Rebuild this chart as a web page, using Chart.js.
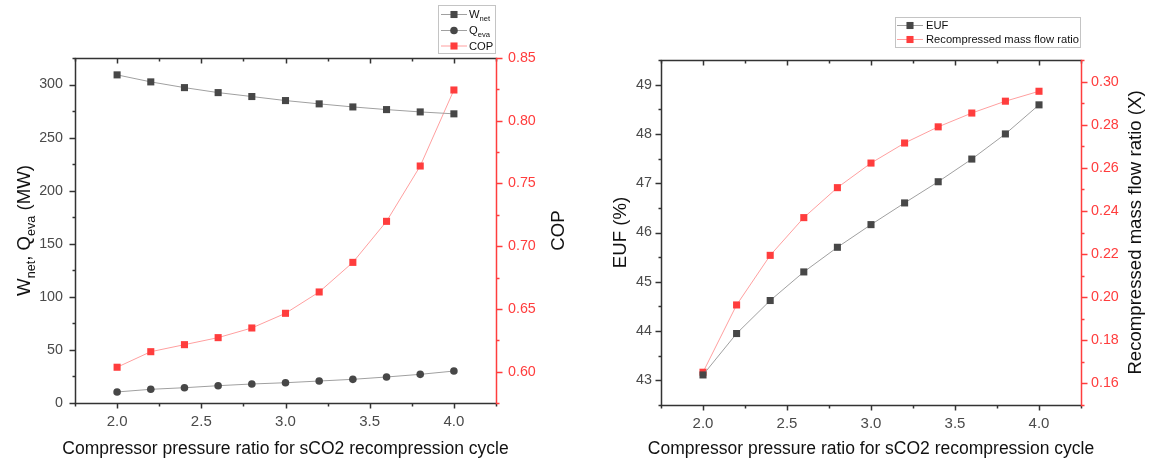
<!DOCTYPE html>
<html>
<head>
<meta charset="utf-8">
<script src="https://cdn.jsdelivr.net/npm/chart.js@4.4.1/dist/chart.umd.min.js"></script>
<style>
  html, body { margin: 0; padding: 0; background: #fff; }
  .wrap { display: flex; width: 1152px; height: 464px; }
  canvas { display: block; }
</style>
</head>
<body>
<div class="wrap">
  <canvas id="chartCop" width="576" height="464"></canvas>
  <canvas id="chartEuf" width="576" height="464"></canvas>
</div>
<script>
// compressor pressure ratio (x for both panels)
const pressureRatio = [2.0, 2.2, 2.4, 2.6, 2.8, 3.0, 3.2, 3.4, 3.6, 3.8, 4.0];

// left panel
const wNet = [309.1, 302.5, 297.1, 292.4, 288.7, 284.9, 281.8, 278.9, 276.4, 274.2, 272.4];
const qEva = [10.4, 12.9, 14.4, 16.3, 17.9, 19.1, 20.7, 22.3, 24.5, 27.0, 30.1];
const cop = [0.6035, 0.6159, 0.6215, 0.6271, 0.6348, 0.6465, 0.6635, 0.6871, 0.7198, 0.7639, 0.8245];

// right panel
const euf = [43.11, 43.95, 44.62, 45.20, 45.70, 46.16, 46.60, 47.03, 47.49, 48.00, 48.59];
const massFlowRatio = [0.1652, 0.1964, 0.2194, 0.2369, 0.2508, 0.2622, 0.2715, 0.2790, 0.2854, 0.2909, 0.2955];

// tick values
const xTicks = [2.0, 2.5, 3.0, 3.5, 4.0];
const powerTicks = [0, 50, 100, 150, 200, 250, 300];
const copTicks = [0.60, 0.65, 0.70, 0.75, 0.80, 0.85];
const eufTicks = [43, 44, 45, 46, 47, 48, 49];
const ratioTicks = [0.16, 0.18, 0.20, 0.22, 0.24, 0.26, 0.28, 0.30];

const FONT = 'Arial, "Liberation Sans", sans-serif';
const AXIS = '#333333';
const LABEL = '#4a4a4a';
const RED = '#ff3d3d';
const RED_LINE = '#ff9f9f';
const GREY_MARK = '#474747';
const GREY_LINE = '#a0a0a0';
const TITLE_SIZE = 18.6;
const X_TITLE_SIZE = 17.5;
const LEGEND_SIZE = 11.2;
const X_TITLE = 'Compressor pressure ratio for sCO2 recompression cycle';

Chart.defaults.font.family = FONT;

const pts = ys => pressureRatio.map((x, i) => ({ x, y: ys[i] }));
const fixTicks = values => scale => { scale.ticks = values.map(v => ({ value: v })); };

function series(label, ys, axis, line, mark, style, r) {
    return {
        label, data: pts(ys), yAxisID: axis,
        borderColor: line, borderWidth: 1, backgroundColor: mark,
        pointStyle: style, pointRadius: r, pointHoverRadius: r,
        pointBackgroundColor: mark, pointBorderColor: mark, pointBorderWidth: 0,
        tension: 0
    };
}

function xScale(height) {
    return {
        type: 'linear', position: 'bottom', min: 1.75, max: 4.25,
        afterBuildTicks: fixTicks(xTicks),
        afterFit: s => { s.height = height; },
        grid: { display: false, drawTicks: false },
        border: { display: false },
        ticks: { color: LABEL, padding: 9.5, font: { size: 15 }, callback: v => v.toFixed(1) }
    };
}

function yScale(pos, min, max, ticks, width, pad, color, fmt) {
    return {
        type: 'linear', position: pos, min, max,
        afterBuildTicks: fixTicks(ticks),
        afterFit: s => { s.width = width; },
        grid: { display: false, drawTicks: false },
        border: { display: false },
        ticks: { color, padding: pad, font: { size: 14.3 }, callback: fmt }
    };
}

// minor ticks halfway between majors, plus one step past each end if it fits
function minorOf(values, min, max) {
    const out = [];
    const step = values[1] - values[0];
    for (let i = 0; i < values.length - 1; i++) out.push((values[i] + values[i + 1]) / 2);
    const lo = values[0] - step / 2, hi = values[values.length - 1] + step / 2;
    if (lo >= min - 1e-9) out.push(lo);
    if (hi <= max + 1e-9) out.push(hi);
    return out;
}

function textWidth(ctx, parts, size) {
    let w = 0;
    parts.forEach(p => {
        ctx.font = `${p.sub ? size * 0.68 : size}px ${FONT}`;
        w += ctx.measureText(p.t).width;
    });
    return w;
}

// text with subscripts, starting at x on baseline y
function drawRich(ctx, parts, x, y, size, color) {
    let cx = x;
    ctx.fillStyle = color;
    ctx.textBaseline = 'alphabetic';
    ctx.textAlign = 'left';
    parts.forEach(p => {
        const s = p.sub ? size * 0.68 : size;
        ctx.font = `${s}px ${FONT}`;
        ctx.fillText(p.t, cx, y + (p.sub ? size * 0.28 : 0));
        cx += ctx.measureText(p.t).width;
    });
}

function drawVertical(ctx, parts, baseX, centerY, size, color) {
    const w = textWidth(ctx, parts, size);
    ctx.save();
    ctx.translate(baseX, centerY);
    ctx.rotate(-Math.PI / 2);
    drawRich(ctx, parts, -w / 2, 0, size, color);
    ctx.restore();
}

function drawMarker(ctx, style, x, y, r, color) {
    ctx.fillStyle = color;
    ctx.beginPath();
    if (style === 'circle') {
        ctx.arc(x, y, r, 0, Math.PI * 2);
    } else {
        const h = r * Math.SQRT1_2;
        ctx.rect(x - h, y - h, 2 * h, 2 * h);
    }
    ctx.fill();
}

const decor = {
    id: 'decor',
    afterDraw(chart, args, o) {
        const { ctx, chartArea: a, scales } = chart;
        const px = v => Math.round(v) + 0.5;
        const L = px(a.left), R = px(a.right), T = px(a.top), B = px(a.bottom);
        const seg = (x1, y1, x2, y2, c) => {
            ctx.strokeStyle = c;
            ctx.beginPath();
            ctx.moveTo(x1, y1);
            ctx.lineTo(x2, y2);
            ctx.stroke();
        };

        ctx.save();
        ctx.lineWidth = 1.5;

        // x axis: ticks out at the bottom, in at the top
        const xs = scales.x;
        const xMaj = xs.ticks.map(t => t.value);
        xMaj.forEach(v => {
            const x = px(xs.getPixelForValue(v));
            seg(x, B, x, B + 5, AXIS);
            seg(x, T, x, T + 5, AXIS);
        });
        minorOf(xMaj, xs.min, xs.max).forEach(v => {
            const x = px(xs.getPixelForValue(v));
            seg(x, B, x, B + 3, AXIS);
            seg(x, T, x, T + 3, AXIS);
        });

        // left y axis, ticks outward
        const yl = scales.y;
        const yMaj = yl.ticks.map(t => t.value);
        yMaj.forEach(v => { const y = px(yl.getPixelForValue(v)); seg(L - 6, y, L, y, AXIS); });
        minorOf(yMaj, yl.min, yl.max).forEach(v => { const y = px(yl.getPixelForValue(v)); seg(L - 3, y, L, y, AXIS); });

        // right y axis in red, ticks outward
        const yr = scales.y2;
        const rMaj = yr.ticks.map(t => t.value);
        rMaj.forEach(v => { const y = px(yr.getPixelForValue(v)); seg(R, y, R + 6, y, RED); });
        minorOf(rMaj, yr.min, yr.max).forEach(v => { const y = px(yr.getPixelForValue(v)); seg(R, y, R + 3, y, RED); });

        // frame
        seg(L - 0.75, T, R, T, AXIS);
        seg(L - 0.75, B, R, B, AXIS);
        seg(L, T, L, B, AXIS);
        seg(R, T - 0.75, R, B + 0.75, RED);

        // axis titles
        ctx.font = `${X_TITLE_SIZE}px ${FONT}`;
        ctx.fillStyle = '#111';
        ctx.textAlign = 'center';
        ctx.textBaseline = 'alphabetic';
        ctx.fillText(X_TITLE, (a.left + a.right) / 2, 454);
        drawVertical(ctx, o.leftTitle, o.leftTitleX, (a.top + a.bottom) / 2, TITLE_SIZE, '#111');
        drawVertical(ctx, o.rightTitle, o.rightTitleX, (a.top + a.bottom) / 2, TITLE_SIZE, '#111');

        // legend
        const lg = o.legend;
        ctx.lineWidth = 1;
        ctx.strokeStyle = '#c4c4c4';
        ctx.strokeRect(lg.x + 0.5, lg.y + 0.5, lg.w, lg.h);
        lg.rows.forEach(row => {
            ctx.lineWidth = 1;
            seg(lg.lineX1, row.y + 0.5, lg.lineX2, row.y + 0.5, row.line);
            drawMarker(ctx, row.style, (lg.lineX1 + lg.lineX2) / 2, row.y + 0.5, row.r, row.mark);
            drawRich(ctx, row.parts, lg.textX, row.y + 4.2, LEGEND_SIZE, '#111');
        });

        ctx.restore();
    }
};

const baseOptions = {
    responsive: false,
    animation: false,
    devicePixelRatio: 1,
    events: [],
    plugins: { legend: { display: false }, tooltip: { enabled: false } }
};

// ---------- W_net, Q_eva and COP ----------
new Chart(document.getElementById('chartCop'), {
    type: 'line',
    data: {
        datasets: [
            series('W_net', wNet, 'y', GREY_LINE, GREY_MARK, 'rect', 5),
            series('Q_eva', qEva, 'y', GREY_LINE, GREY_MARK, 'circle', 3.8),
            series('COP', cop, 'y2', RED_LINE, RED, 'rect', 5)
        ]
    },
    options: {
        ...baseOptions,
        layout: { padding: { top: 58, left: 0, right: 0, bottom: 0 } },
        scales: {
            x: xScale(61),
            y: yScale('left', 0, 325, powerTicks, 75, 12, LABEL, v => String(v)),
            y2: yScale('right', 0.575, 0.85, copTicks, 80, 12, RED, v => v.toFixed(2))
        },
        plugins: {
            ...baseOptions.plugins,
            decor: {
                leftTitle: [{ t: 'W' }, { t: 'net', sub: true }, { t: ', Q' }, { t: 'eva', sub: true }, { t: ' (MW)' }],
                leftTitleX: 29.5,
                rightTitle: [{ t: 'COP' }],
                rightTitleX: 564,
                legend: {
                    x: 438, y: 5, w: 57, h: 48,
                    lineX1: 441, lineX2: 467, textX: 469,
                    rows: [
                        { y: 14, parts: [{ t: 'W' }, { t: 'net', sub: true }], line: GREY_LINE, mark: GREY_MARK, style: 'rect', r: 5 },
                        { y: 30, parts: [{ t: 'Q' }, { t: 'eva', sub: true }], line: GREY_LINE, mark: GREY_MARK, style: 'circle', r: 3.8 },
                        { y: 45.5, parts: [{ t: 'COP' }], line: RED_LINE, mark: RED, style: 'rect', r: 5 }
                    ]
                }
            }
        }
    },
    plugins: [decor]
});

// ---------- EUF and recompressed mass flow ratio ----------
new Chart(document.getElementById('chartEuf'), {
    type: 'line',
    data: {
        datasets: [
            series('EUF', euf, 'y', GREY_LINE, GREY_MARK, 'rect', 5),
            series('Recompressed mass flow ratio', massFlowRatio, 'y2', RED_LINE, RED, 'rect', 5)
        ]
    },
    options: {
        ...baseOptions,
        layout: { padding: { top: 60, left: 0, right: 0, bottom: 0 } },
        scales: {
            x: xScale(59),
            y: yScale('left', 42.5, 49.5, eufTicks, 85, 9, LABEL, v => String(v)),
            y2: yScale('right', 0.15, 0.31, ratioTicks, 71, 10, RED, v => v.toFixed(2))
        },
        plugins: {
            ...baseOptions.plugins,
            decor: {
                leftTitle: [{ t: 'EUF (%)' }],
                leftTitleX: 49.5,
                rightTitle: [{ t: 'Recompressed mass flow ratio (X)' }],
                rightTitleX: 565,
                legend: {
                    x: 319, y: 17, w: 185, h: 30,
                    lineX1: 321, lineX2: 347, textX: 350,
                    rows: [
                        { y: 25, parts: [{ t: 'EUF' }], line: GREY_LINE, mark: GREY_MARK, style: 'rect', r: 5 },
                        { y: 39, parts: [{ t: 'Recompressed mass flow ratio' }], line: RED_LINE, mark: RED, style: 'rect', r: 5 }
                    ]
                }
            }
        }
    },
    plugins: [decor]
});
</script>
</body>
</html>
